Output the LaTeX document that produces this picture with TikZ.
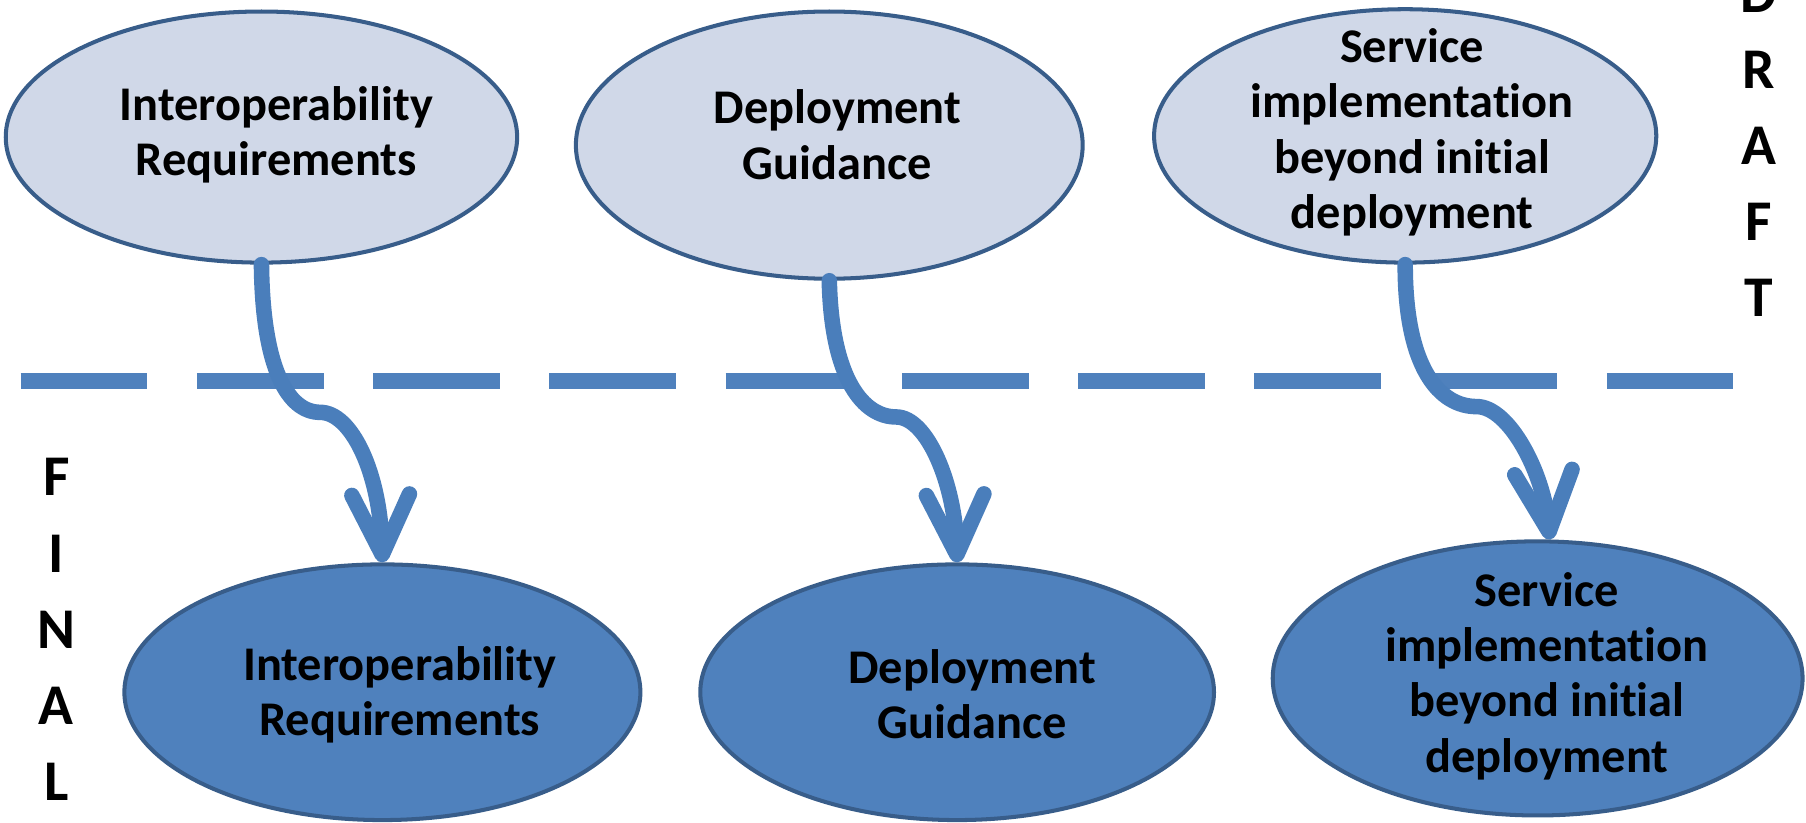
\documentclass[tikz,border=0pt]{standalone}
\usepackage{fontspec}
\setmainfont{Carlito}[Ligatures=NoCommon]
\usetikzlibrary{shapes.geometric,arrows.meta}
\definecolor{lightfill}{HTML}{D0D8E8}
\definecolor{darkfill}{HTML}{4F81BD}
\definecolor{rim}{HTML}{385D8A}
\definecolor{flow}{HTML}{4A7EBB}
\tikzset{
  oval/.style={ellipse, draw=rim, line width=3.5pt, inner sep=0pt},
  draftoval/.style={oval, fill=lightfill},
  finaloval/.style={oval, fill=darkfill},
  label text/.style={align=center, font=\bfseries\fontsize{42}{48}\selectfont, text=black, inner sep=0pt},
  side letters/.style={align=center, font=\bfseries\fontsize{50}{66}\selectfont, text=black, inner sep=0pt},
  flowarrow/.style={draw=flow, line width=13.5pt, line cap=round,
    -{Straight Barb[length=52pt, width=50pt, round]}},
  divider/.style={draw=darkfill, line width=14pt, dash pattern=on 110pt off 43pt}
}
\begin{document}
\begin{tikzpicture}[x=1pt, y=-1pt]
\useasboundingbox (0,0) rectangle (1568,714);
% top (draft) ellipses
\node[draftoval, minimum width=444pt, minimum height=218pt] (E1) at (227,119) {};
\node[draftoval, minimum width=440pt, minimum height=232pt] (E2) at (720,126) {};
\node[draftoval, minimum width=436pt, minimum height=220pt] (E3) at (1220,118) {};
% bottom (final) ellipses
\node[finaloval, minimum width=448pt, minimum height=222pt] (B1) at (332,601) {};
\node[finaloval, minimum width=446pt, minimum height=222pt] (B2) at (831,601) {};
\node[finaloval, minimum width=460pt, minimum height=238pt] (B3) at (1335,589) {};
% texts
\node[label text] (T1) at (240,117) {Interoperability\\Requirements};
\node[label text] (T2) at (727,117) {Deployment\\Guidance};
\node[label text] (T3) at (1226,115) {Service\\implementation\\beyond initial\\deployment};
\node[label text] (U1) at (347,603) {Interoperability\\Requirements};
\node[label text] (U2) at (844,603) {Deployment\\Guidance};
\node[label text] (U3) at (1343,587) {Service\\implementation\\beyond initial\\deployment};
% side letters
\node[side letters, anchor=north] (DRAFT) at (1527,-22) {D\\R\\A\\F\\T};
\node[side letters, anchor=north] (FINAL) at (49,398) {F\\I\\N\\A\\L};
% divider
\draw[divider] (18,331) -- (1505,331);
% bend points
\coordinate (K1) at (278,358);
\coordinate (K2) at (778,362);
\coordinate (K3) at (1282,353);
% arrows
\draw[flowarrow] (E1.south) .. controls (228,320) and (250,358) .. (K1)
  .. controls (305,358) and (330,410) .. (B1.north);
\draw[flowarrow] (E2.south) .. controls (722,330) and (750,362) .. (K2)
  .. controls (805,362) and (829,420) .. (B2.north);
\draw[flowarrow] (E3.south) .. controls (1220,320) and (1250,353) .. (K3)
  .. controls (1310,353) and (1340,410) .. (B3.85);
\end{tikzpicture}
\end{document}
